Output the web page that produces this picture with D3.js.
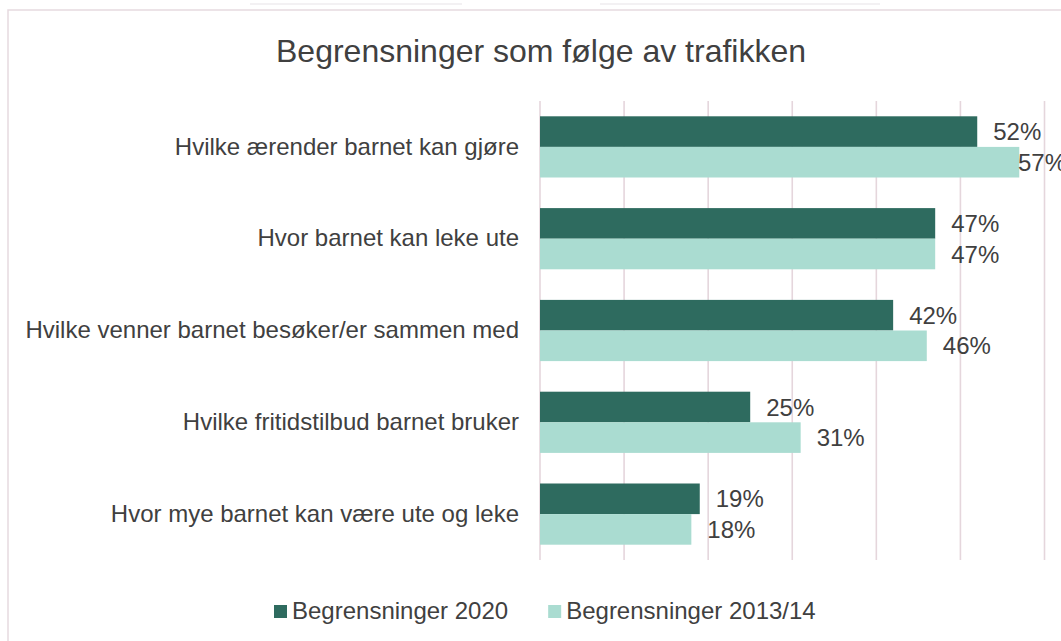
<!DOCTYPE html>
<html>
<head>
<meta charset="utf-8">
<script src="https://cdn.jsdelivr.net/npm/d3@7"></script>
<style>
  body { margin: 0; background: #fff; }
  text { font-family: Arial, "Liberation Sans", sans-serif; fill: #404040; }
</style>
</head>
<body>
<svg id="chart" width="1061" height="641"></svg>
<script>
// Chart data
const categories = [
    "Hvilke ærender barnet kan gjøre",
    "Hvor barnet kan leke ute",
    "Hvilke venner barnet besøker/er sammen med",
    "Hvilke fritidstilbud barnet bruker",
    "Hvor mye barnet kan være ute og leke"
];
const seriesNames = ["Begrensninger 2020", "Begrensninger 2013/14"];
const values2020 = [0.52, 0.47, 0.42, 0.25, 0.19];
const values2013 = [0.57, 0.47, 0.46, 0.31, 0.18];
const gridTicks = [0, 0.1, 0.2, 0.3, 0.4, 0.5, 0.6];
const colors = ["#2e6b5f", "#aadcd1"];

const svg = d3.select("#chart");

// faint bits above the chart frame
svg.append("rect").attr("x", 250).attr("y", 3).attr("width", 212).attr("height", 2).attr("fill", "#f3f1f3");
svg.append("rect").attr("x", 600).attr("y", 3).attr("width", 280).attr("height", 2).attr("fill", "#f3f1f3");

// chart frame (runs off the right / bottom edge)
svg.append("rect")
    .attr("x", 8).attr("y", 10)
    .attr("width", 1100).attr("height", 700)
    .attr("fill", "#fff")
    .attr("stroke", "#e6dadf")
    .attr("stroke-width", 1.5);

// Title
svg.append("text")
    .attr("x", 541)
    .attr("y", 62)
    .attr("text-anchor", "middle")
    .style("font-size", "32px")
    .text("Begrensninger som følge av trafikken");

// Scales
const x = d3.scaleLinear().domain([0, 0.6]).range([540, 1044.5]);
const y = d3.scaleBand().domain(categories).range([101, 560])
    .paddingInner(1 / 3).paddingOuter(1 / 6);
const ySub = d3.scaleBand().domain(seriesNames).range([0, y.bandwidth()]);

// Gridlines
svg.append("g").selectAll("line")
    .data(gridTicks)
    .join("line")
    .attr("x1", d => x(d)).attr("x2", d => x(d))
    .attr("y1", 101).attr("y2", 560)
    .attr("stroke", "#e5d6dc")
    .attr("stroke-width", 1.6);

// Category labels
svg.append("g").selectAll("text")
    .data(categories)
    .join("text")
    .attr("x", 519)
    .attr("y", d => y(d) + y.bandwidth() / 2)
    .attr("dy", "0.32em")
    .attr("text-anchor", "end")
    .style("font-size", "24px")
    .text(d => d);

// Bars
const rows = [];
categories.forEach((c, i) => {
    rows.push({ cat: c, series: seriesNames[0], value: values2020[i], color: colors[0] });
    rows.push({ cat: c, series: seriesNames[1], value: values2013[i], color: colors[1] });
});

svg.append("g").selectAll("rect")
    .data(rows)
    .join("rect")
    .attr("x", x(0))
    .attr("y", d => y(d.cat) + ySub(d.series))
    .attr("width", d => x(d.value) - x(0))
    .attr("height", ySub.bandwidth())
    .attr("fill", d => d.color);

// Value labels (kept inside the chart area like Excel does)
svg.append("g").selectAll("text")
    .data(rows)
    .join("text")
    .attr("y", d => y(d.cat) + ySub(d.series) + ySub.bandwidth() / 2)
    .attr("dy", "0.36em")
    .style("font-size", "24px")
    .text(d => Math.round(d.value * 100) + "%")
    .attr("x", function (d) {
        const w = this.getComputedTextLength();
        return Math.min(x(d.value) + 16, 1066 - w);
    });

// Legend
const legend = svg.append("g");
let lx = 274;
seriesNames.forEach((s, i) => {
    legend.append("rect")
        .attr("x", lx).attr("y", 605)
        .attr("width", 13).attr("height", 13)
        .attr("fill", colors[i]);
    const t = legend.append("text")
        .attr("x", lx + 18)
        .attr("y", 619)
        .style("font-size", "24px")
        .text(s);
    lx += 18 + t.node().getComputedTextLength() + 40;
});
</script>
</body>
</html>
